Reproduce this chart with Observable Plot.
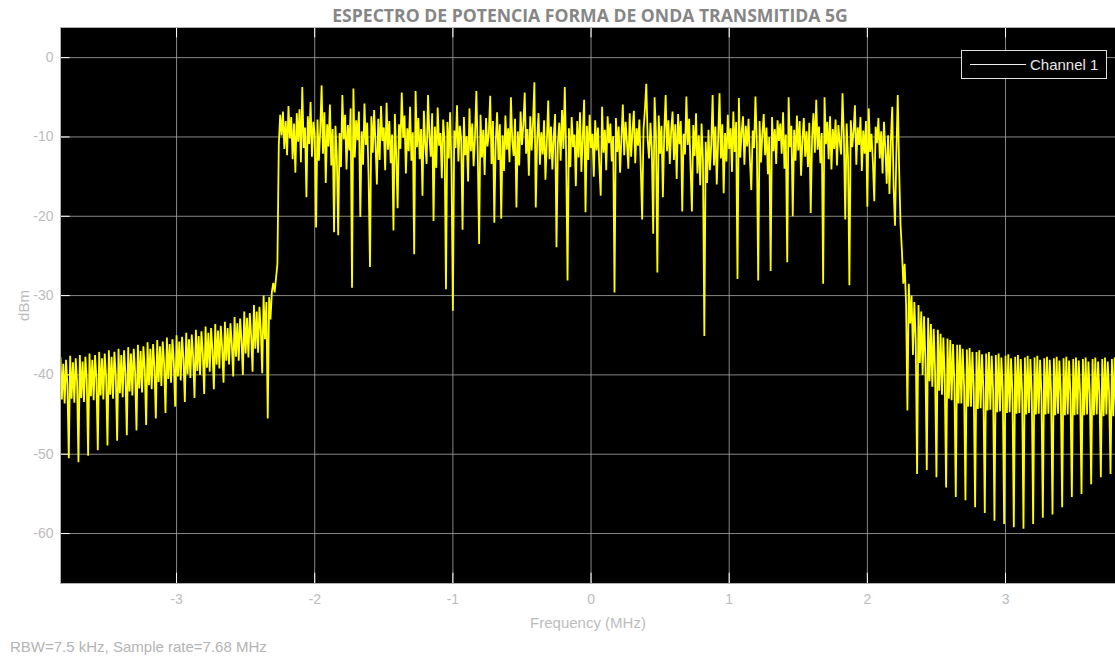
<!DOCTYPE html>
<html>
<head>
<meta charset="utf-8">
<script src="https://cdn.jsdelivr.net/npm/d3@7"></script>
<script src="https://cdn.jsdelivr.net/npm/@observablehq/plot@0.6"></script>
<style>
  html, body { margin: 0; padding: 0; background: #fff; overflow: hidden; }
  #wrap { position: relative; width: 1115px; height: 660px; }
  #title { position: absolute; left: 240px; width: 700px; top: 3px; text-align: center;
    font: bold 17.6px "Open Sans", sans-serif; color: #868686; white-space: nowrap; }
  #caption { position: absolute; left: 10px; top: 638px; font: 15px "Liberation Sans", Arial, sans-serif; color: #b4b4b4; white-space: nowrap; }
  #legend { position: absolute; left: 961px; top: 50px; width: 144px; height: 27px; background: #000;
    border: 1px solid #e0e0e0; }
  #legend .ln { position: absolute; left: 8px; top: 13px; width: 56px; height: 1px; background: #f0f0f0; }
  #legend .tx { position: absolute; left: 68px; top: 5px; font: 15px "Liberation Sans", Arial, sans-serif; color: #e8e8e8; white-space: nowrap; }
</style>
</head>
<body>
<div id="wrap">
  <div id="chart"></div>
  <div id="title"></div>
  <div id="caption"></div>
  <div id="legend"><div class="ln"></div><div class="tx"></div></div>
</div>
<script>
const titleText = "ESPECTRO DE POTENCIA FORMA DE ONDA TRANSMITIDA 5G";
const captionText = "RBW=7.5 kHz, Sample rate=7.68 MHz";
const seriesName = "Channel 1";
const xLabel = "Frequency (MHz)";
const yLabel = "dBm";
const xTicks = [-3, -2, -1, 0, 1, 2, 3];
const yTicks = [0, -10, -20, -30, -40, -50, -60];
const xDomain = [-3.84, 3.796];
const yDomain = [-66.3, 3.8];

// spectrum bins: start frequency and bin spacing (MHz)
const freqStart = -3.84;
const freqStep = 0.01;

// lower adjacent band, -3.84 .. -2.27 MHz (dBm)
const leftSideband = [
-37.8,-43.1,-38.6,-43.6,-38.1,-41.2,-50.5,
-37.6,-43.0,-38.4,-43.5,-37.9,-40.9,-51.0,
-37.5,-42.9,-38.3,-43.4,-37.7,-40.6,-50.2,
-37.3,-42.7,-38.1,-43.2,-37.5,-40.4,-49.5,
-37.1,-42.6,-37.9,-43.1,-37.3,-40.2,-48.9,
-36.9,-42.5,-37.7,-43.0,-37.1,-40.0,-48.3,
-36.7,-42.3,-37.5,-42.8,-36.9,-39.8,-47.6,
-36.5,-42.1,-37.3,-42.6,-36.7,-39.6,-47.0,
-36.2,-41.7,-37.0,-42.2,-36.4,-39.3,-46.3,
-35.9,-41.3,-36.7,-41.8,-36.1,-39.0,-45.5,
-35.6,-40.9,-36.4,-41.4,-35.8,-38.6,-44.8,
-35.3,-40.5,-36.1,-41.0,-35.5,-38.3,-44.0,
-35.0,-40.2,-35.8,-40.7,-35.2,-38.0,-43.4,
-34.7,-39.9,-35.5,-40.4,-34.9,-37.7,-42.9,
-34.3,-39.5,-35.1,-40.0,-34.5,-37.3,-42.4,
-33.9,-39.1,-34.7,-39.6,-34.1,-36.9,-41.8,
-33.6,-38.7,-34.4,-39.2,-33.8,-36.5,-41.0,
-33.3,-38.2,-34.1,-38.7,-33.5,-36.1,-40.2,
-32.7,-37.7,-33.5,-38.2,-32.9,-35.6,-40.0,
-32.0,-37.3,-32.8,-37.8,-32.2,-35.1,-39.6,
-31.2,-36.7,-32.0,-37.2,-31.4,-34.4,-39.8,
-30.0,-35.5,-30.8,-45.5,-30.2,-33.0,-29.5,
-28.4,-29.6,-27.8,-26.0
];

// occupied band, -2.26 .. 2.23 MHz (dBm)
const passband = [
-11.0,-7.2,-9.8,-6.8,-11.5,-8.0,-12.3,-6.1,-10.2,-7.5,
-12.8,-8.3,-14.5,-7.0,-10.6,-6.5,-13.2,-3.7,-11.4,-8.8,
-17.6,-7.4,-10.9,-5.6,-12.5,-8.1,-9.6,-21.4,-7.8,-13.0,
-9.2,-3.5,-12.1,-6.9,-15.8,-8.4,-11.2,-5.9,-13.6,-9.0,
-22.0,-8.6,-12.4,-22.4,-9.5,-13.8,-4.7,-10.3,-7.2,-14.1,
-8.5,-11.7,-6.4,-29.0,-3.9,-12.6,-7.9,-10.4,-6.8,-20.1,
-9.3,-13.5,-5.8,-11.0,-8.2,-15.1,-26.4,-7.4,-12.0,-6.6,
-10.8,-16.0,-7.7,-12.9,-6.1,-10.5,-8.8,-14.2,-5.7,-11.6,
-8.0,-13.3,-9.7,-21.8,-7.1,-12.2,-19.0,-8.4,-11.5,-4.4,
-10.1,-7.3,-14.6,-8.9,-11.8,-6.2,-13.0,-9.4,-24.8,-4.2,
-11.3,-7.6,-12.8,-9.0,-17.4,-6.7,-10.9,-13.4,-4.7,-9.8,
-12.5,-7.0,-20.6,-8.7,-13.9,-6.3,-11.1,-9.5,-15.2,-7.8,
-10.6,-29.2,-8.1,-12.7,-6.9,-14.0,-31.9,-9.2,-11.4,-6.0,
-13.1,-8.6,-10.2,-21.7,-7.5,-12.3,-9.9,-15.6,-6.4,-11.8,
-8.3,-13.7,-10.0,-4.2,-11.9,-23.5,-7.2,-12.6,-9.1,-14.8,
-7.6,-11.2,-9.6,-4.8,-13.4,-8.0,-20.8,-10.7,-6.9,-12.9,
-8.4,-20.3,-9.8,-14.3,-7.3,-11.6,-8.9,-13.2,-5.0,-10.5,
-12.4,-7.7,-18.9,-9.3,-13.6,-6.8,-11.0,-8.5,-4.4,-12.1,
-9.0,-14.9,-7.4,-11.7,-8.2,-3.1,-18.9,-10.3,-7.0,-13.5,
-9.4,-12.2,-7.9,-15.4,-10.6,-5.4,-12.8,-8.7,-14.1,-9.9,
-7.1,-23.9,-10.8,-8.2,-13.0,-6.6,-11.5,-3.7,-12.4,-28.1,
-8.9,-13.8,-7.5,-11.3,-9.7,-16.2,-8.0,-12.6,-6.9,-14.4,
-10.1,-5.3,-19.5,-8.6,-12.9,-7.2,-11.4,-9.6,-15.0,-7.9,
-11.7,-8.8,-13.6,-17.4,-6.2,-12.0,-9.1,-14.2,-7.4,-10.8,
-8.3,-13.1,-9.9,-29.6,-7.6,-11.9,-8.7,-14.5,-10.2,-5.9,
-12.3,-8.1,-10.7,-14.0,-7.0,-12.5,-9.3,-6.7,-13.3,-8.9,
-11.1,-7.8,-13.9,-20.4,-9.0,-6.5,-3.3,-10.4,-12.7,-8.2,
-11.6,-22.2,-5.0,-9.7,-27.1,-7.3,-12.1,-8.6,-17.6,-9.4,
-4.7,-11.8,-7.9,-13.4,-9.2,-6.8,-12.9,-8.4,-15.3,-7.1,
-10.9,-8.0,-19.4,-9.6,-12.2,-4.9,-11.0,-7.7,-13.7,-19.4,
-8.5,-12.4,-7.0,-14.6,-9.8,-16.1,-8.3,-13.0,-35.1,-10.6,
-15.8,-9.1,-14.2,-11.0,-4.7,-13.6,-8.7,-16.0,-10.2,-4.5,
-12.7,-8.4,-17.1,-9.5,-13.1,-7.2,-11.5,-8.9,-14.4,-6.8,
-11.9,-8.1,-27.9,-5.1,-12.6,-9.4,-7.4,-13.5,-8.6,-11.2,
-7.7,-12.9,-16.7,-9.2,-11.4,-4.9,-10.8,-28.1,-8.0,-13.2,
-9.6,-7.1,-12.3,-8.8,-14.7,-10.0,-26.9,-7.5,-11.8,-9.0,
-13.4,-7.9,-10.5,-8.3,-12.1,-6.9,-14.0,-9.7,-25.8,-5.0,
-11.3,-8.6,-20.0,-9.1,-13.0,-7.3,-11.7,-8.0,-14.9,-10.4,
-7.6,-12.5,-9.3,-13.8,-8.2,-19.6,-10.1,-7.0,-12.0,-5.3,
-11.6,-8.7,-13.3,-9.5,-28.5,-5.0,-10.9,-8.1,-12.8,-7.4,
-14.1,-9.0,-11.5,-7.8,-13.6,-8.5,-10.7,-12.2,-4.5,-9.9,
-20.4,-8.3,-12.6,-28.7,-7.9,-11.3,-9.4,-6.0,-13.5,-8.8,
-11.0,-7.5,-14.3,-9.2,-12.1,-8.0,-18.8,-6.4,-11.9,-9.6,
-13.2,-18.1,-8.7,-10.8,-7.6,-12.7,-9.3,-14.6,-8.1,-11.4,
-15.9,-9.8,-17.2,-10.5,-6.2,-16.4,-21.2,-12.0,-4.7,-14.0
];

// upper adjacent band, 2.24 .. 3.83 MHz (dBm)
const rightSideband = [
-21.0,
-24.3,-28.5,-26.0,-31.0,-44.5,-28.5,-33.5,
-30.0,-37.5,-30.8,-35.5,-52.5,-31.2,-38.5,
-32.0,-40.0,-32.6,-38.0,-52.0,-32.8,-40.8,
-33.6,-41.5,-34.2,-39.5,-52.9,-34.3,-42.0,
-34.8,-42.5,-35.3,-40.5,-54.2,-35.4,-43.0,
-35.6,-43.2,-36.1,-41.0,-55.4,-36.2,-43.6,
-36.2,-43.6,-36.7,-41.4,-55.8,-36.8,-44.0,
-36.6,-44.0,-37.1,-41.7,-56.7,-37.1,-44.3,
-36.9,-44.2,-37.4,-41.9,-57.4,-37.3,-44.5,
-37.1,-44.4,-37.6,-42.0,-58.4,-37.5,-44.7,
-37.3,-44.6,-37.8,-42.1,-58.8,-37.6,-44.8,
-37.4,-44.7,-37.9,-42.2,-59.2,-37.7,-44.9,
-37.5,-44.8,-38.0,-42.2,-59.4,-37.8,-45.0,
-37.6,-44.8,-38.0,-42.3,-58.8,-37.8,-45.0,
-37.6,-44.9,-38.1,-42.3,-58.0,-37.9,-45.0,
-37.7,-44.9,-38.1,-42.3,-57.6,-37.9,-45.1,
-37.7,-44.9,-38.2,-42.4,-56.7,-37.9,-45.1,
-37.7,-45.0,-38.2,-42.4,-55.4,-38.0,-45.1,
-37.8,-45.0,-38.2,-42.4,-55.0,-38.0,-45.1,
-37.8,-45.0,-38.3,-42.4,-53.8,-38.0,-45.1,
-37.8,-45.0,-38.3,-42.5,-52.9,-38.0,-45.2,
-37.8,-45.0,-38.3,-42.5,-52.5,-38.0,-45.2,
-37.8,-45.0,-38.3,-42.5,-52.0
];

const spectrum = [...leftSideband, ...passband, ...rightSideband]
  .map((dbm, i) => ({freq: freqStart + i * freqStep, dbm}));

const tickFont = "Liberation Sans, Arial, sans-serif";
const fmt = d => d < 0 ? "-" + Math.abs(d) : String(d);

const plot = Plot.plot({
  width: 1115,
  height: 660,
  marginTop: 27,
  marginBottom: 77,
  marginLeft: 60,
  marginRight: 0,
  style: {background: "transparent", fontFamily: tickFont, fontSize: "14px", color: "#bcbcbc"},
  x: {domain: xDomain, ticks: xTicks},
  y: {domain: yDomain, ticks: yTicks},
  marks: [
    Plot.frame({fill: "#000", stroke: "none"}),
    Plot.gridX(xTicks, {stroke: "#a8a8a8", strokeOpacity: 0.8, strokeWidth: 1}),
    Plot.gridY(yTicks, {stroke: "#a8a8a8", strokeOpacity: 0.8, strokeWidth: 1}),
    Plot.ruleX(xTicks, {y1: yDomain[0], y2: yDomain[0] + 1.3, stroke: "#fff", strokeWidth: 1}),
    Plot.ruleX(xTicks, {y1: yDomain[1], y2: yDomain[1] - 1.3, stroke: "#fff", strokeWidth: 1}),
    Plot.ruleY(yTicks, {x1: xDomain[0], x2: xDomain[0] + 0.07, stroke: "#fff", strokeWidth: 1}),
    Plot.line(spectrum, {x: "freq", y: "dbm", stroke: "#ffff00", strokeWidth: 1.8, strokeLinejoin: "bevel", clip: true}),
    Plot.frame({stroke: "#b0b0b0", strokeWidth: 1}),
    Plot.axisX(xTicks, {tickSize: 0, tickPadding: 11, tickFormat: fmt, fontSize: 14,
      label: xLabel, labelAnchor: "center", labelArrow: "none", labelOffset: 44, fill: "#bcbcbc"}),
    Plot.axisY(yTicks, {tickSize: 0, tickPadding: 7, tickFormat: fmt, fontSize: 14,
      label: yLabel, labelAnchor: "center", labelArrow: "none", labelOffset: 42, fill: "#bcbcbc"})
  ]
});
// axis titles a little larger than tick labels, as in the reference
plot.querySelectorAll("[aria-label='x-axis label'] text, [aria-label='y-axis label'] text")
  .forEach(t => t.setAttribute("font-size", "15"));
document.getElementById("chart").appendChild(plot);
document.getElementById("title").textContent = titleText;
document.getElementById("caption").textContent = captionText;
document.querySelector("#legend .tx").textContent = seriesName;
</script>
</body>
</html>
